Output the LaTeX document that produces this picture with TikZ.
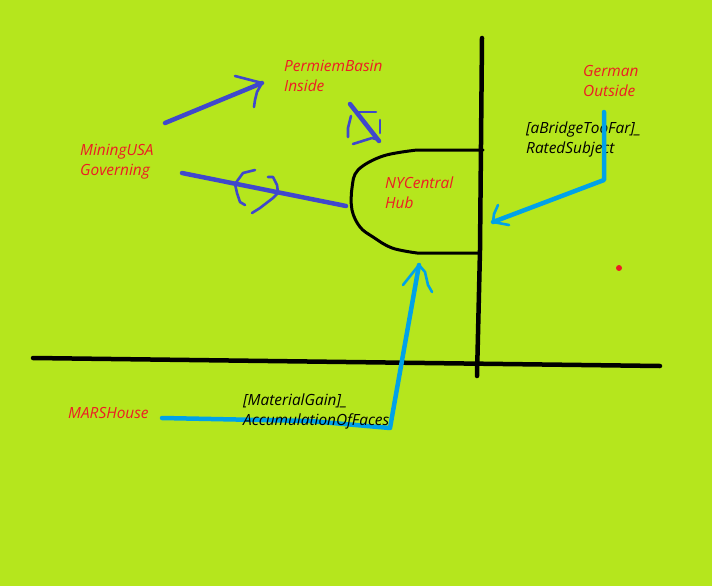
\documentclass[tikz,border=0pt]{standalone}
\usepackage{fontspec}
\setmainfont{Open Sans}
\definecolor{bg}{HTML}{B5E61D}
\definecolor{paintred}{HTML}{ED1C24}
\definecolor{violetblue}{HTML}{3F48CC}
\definecolor{skyblue}{HTML}{00A2E8}
\begin{document}
\begin{tikzpicture}[x=1pt,y=-1pt,
  lbl/.style={anchor=base west, inner sep=0pt, align=left, font=\itshape\fontsize{15.4}{20}\selectfont},
  redlbl/.style={lbl, text=paintred},
  blklbl/.style={lbl, text=black},
  thick black/.style={draw=black, line width=4.5pt, line cap=round, line join=round},
  hubline/.style={draw=black, line width=3pt, line cap=round, line join=round},
  vshaft/.style={draw=violetblue, line width=4.5pt, line cap=round, line join=round},
  vhead/.style={draw=violetblue, line width=2.6pt, line cap=round, line join=round},
  bshaft/.style={draw=skyblue, line width=4.5pt, line cap=round, line join=round},
  bhead/.style={draw=skyblue, line width=2.6pt, line cap=round, line join=round}]
\fill[bg] (0,0) rectangle (712,586);
\useasboundingbox (0,0) rectangle (712,586);

% labels (anchor = baseline of the last line)
\node[redlbl] (permiem) at (284,92) {PermiemBasin\\Inside};
\node[redlbl] (mining) at (80,175) {MiningUSA\\Governing};
\node[redlbl] (german) at (583,96) {German\\Outside};
\node[blklbl] (bridge) at (526,153) {[aBridgeTooFar]\_\\RatedSubject};
\node[redlbl] (hub) at (385,208) {NYCentral\\Hub};
\node[redlbl] (mars) at (68,418) {MARSHouse};

% road lines
\coordinate (vtop) at (482,38);
\coordinate (vmid) at (480,250);
\coordinate (vbot) at (477,376);
\coordinate (hleft) at (33,358);
\coordinate (hright) at (660,366);
\draw[thick black] (vtop) -- (vmid) -- (vbot);
\draw[thick black] (hleft) -- (hright);

% hub outline
\coordinate (hubtr) at (483,150);
\coordinate (hubbr) at (478,253);
\draw[hubline] (hubtr) -- (417,150) plot[smooth, tension=0.6] coordinates {(417,150) (383,156) (358,170) (352,188) (352,210) (360,227) (373,237) (392,248) (417,253)} -- (hubbr);

% arrow: MiningUSA -> PermiemBasin
\coordinate (a1s) at (165,123);
\coordinate (a1t) at (262,83);
\draw[vshaft] (a1s) -- (a1t);
\draw[vhead] (235,76) -- (a1t) -- (257,92) -- (255,100) -- (254,107);

% arrow: PermiemBasin -> hub
\coordinate (a2s) at (350,104);
\coordinate (a2t) at (379,141);
\draw[vshaft] (a2s) -- (a2t);
\draw[vhead] (357,112) -- (376,112);
\draw[vhead] (351,116) -- (348,128) -- (348,137);
\draw[vhead] (353,144) -- (372,138) -- (379,140);
\draw[vhead] (380,120) -- (380,133);

% arrow: hub -> MiningUSA
\coordinate (a3s) at (346,206);
\coordinate (a3t) at (182,173);
\draw[vshaft] (a3s) -- (a3t);
\draw[vhead] (255,170) -- (243,173) -- (235,184) -- (237,193) -- (240,202) -- (245,205);
\draw[vhead] (268,177) -- (273,177) -- (277,185) -- (278,193) -- (273,198) -- (260,208) -- (252,213);

% arrow: German -> hub
\coordinate (gs) at (604,112);
\coordinate (gc) at (604,180);
\coordinate (gt) at (493,222);
\draw[bshaft] (gs) -- (gc) -- (gt);
\draw[bhead] (498,205) -- (494,214) -- (gt) -- (509,225);

% arrow: MARSHouse -> hub
\coordinate (ms) at (162,418);
\coordinate (mc) at (390,428);
\coordinate (mt) at (419,265);
\draw[bshaft] (ms) -- (310,421) -- (mc) -- (mt);
\draw[bhead] (403,285) -- (mt) -- (425,272) -- (428,285) -- (432,292);

% label drawn over the blue line
\node[blklbl] (material) at (243,425) {[MaterialGain]\_\\AccumulationOfFaces};

% red dot
\fill[paintred] (619,268) circle (3);
\end{tikzpicture}
\end{document}
